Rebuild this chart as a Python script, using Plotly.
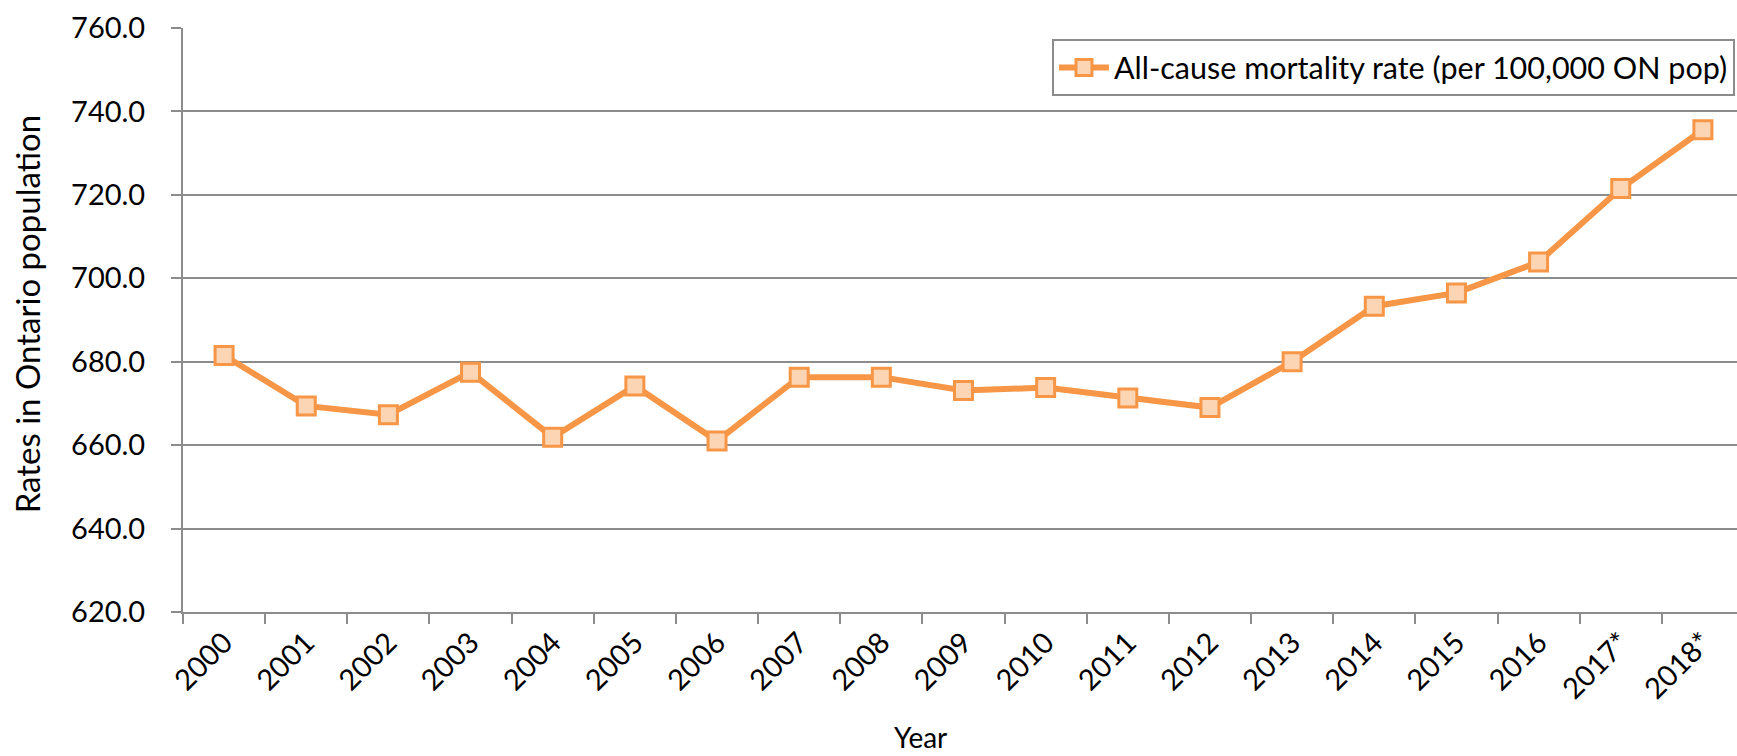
import plotly.graph_objects as go

years = ["2000", "2001", "2002", "2003", "2004", "2005", "2006", "2007", "2008", "2009",
         "2010", "2011", "2012", "2013", "2014", "2015", "2016", "2017*", "2018*"]
rates = [681.5, 669.4, 667.3, 677.5, 661.9, 674.2, 661.0, 676.3, 676.3, 673.1,
         673.8, 671.3, 669.0, 680.0, 693.3, 696.5, 703.9, 721.5, 735.6]
series_name = "All-cause mortality rate (per 100,000 ON pop)"
y_ticks = [620, 640, 660, 680, 700, 720, 740, 760]

ORANGE = "#F79646"
FILL = "#FCD5B5"
GRID = "#8C8C8C"
FONT = "Lato, 'Open Sans', sans-serif"

fig = go.Figure()
fig.add_trace(go.Scatter(
    x=years, y=rates, name=series_name, mode="lines+markers",
    line=dict(color=ORANGE, width=6),
    marker=dict(symbol="square", size=18, color=FILL, line=dict(color=ORANGE, width=3)),
))

fig.update_layout(
    width=1737, height=756,
    margin=dict(l=183, r=0, t=28, b=144),
    paper_bgcolor="white", plot_bgcolor="white",
    font=dict(family=FONT, color="black", size=28),
    showlegend=True,
    legend=dict(x=0.9987, xanchor="right", y=0.981, yanchor="top",
                bordercolor=GRID, borderwidth=2, bgcolor="white",
                font=dict(size=30.5), itemwidth=50,
                tracegroupgap=0),
    xaxis=dict(type="category", range=[-0.5, 18.415], tickangle=-45,
               tickson="boundaries", ticks="outside", ticklen=10, tickwidth=2,
               tickcolor=GRID, showline=True, linecolor=GRID, linewidth=2,
               showgrid=False, tickfont=dict(size=29), zeroline=False),
    yaxis=dict(range=[620, 760], tickvals=y_ticks,
               ticktext=[f"{v:.1f}" for v in y_ticks],
               ticks="outside", ticklen=10, tickwidth=2, tickcolor=GRID,
               showline=True, linecolor=GRID, linewidth=2,
               showgrid=True, gridcolor=GRID, gridwidth=2,
               ticklabelstandoff=20, tickfont=dict(size=29), zeroline=False),
    annotations=[
        dict(text="Rates in Ontario population", xref="paper", yref="paper",
             x=-0.1005, y=0.5094, xanchor="center", yanchor="middle",
             textangle=-90, showarrow=False, font=dict(size=33)),
        dict(text="Year", xref="paper", yref="paper",
             x=0.4743, y=-0.214, xanchor="center", yanchor="middle",
             showarrow=False, font=dict(size=28)),
    ],
)

fig.write_html("out.html", config={"displayModeBar": False},
               post_script="document.body.style.margin='0';document.body.style.overflow='hidden';")
